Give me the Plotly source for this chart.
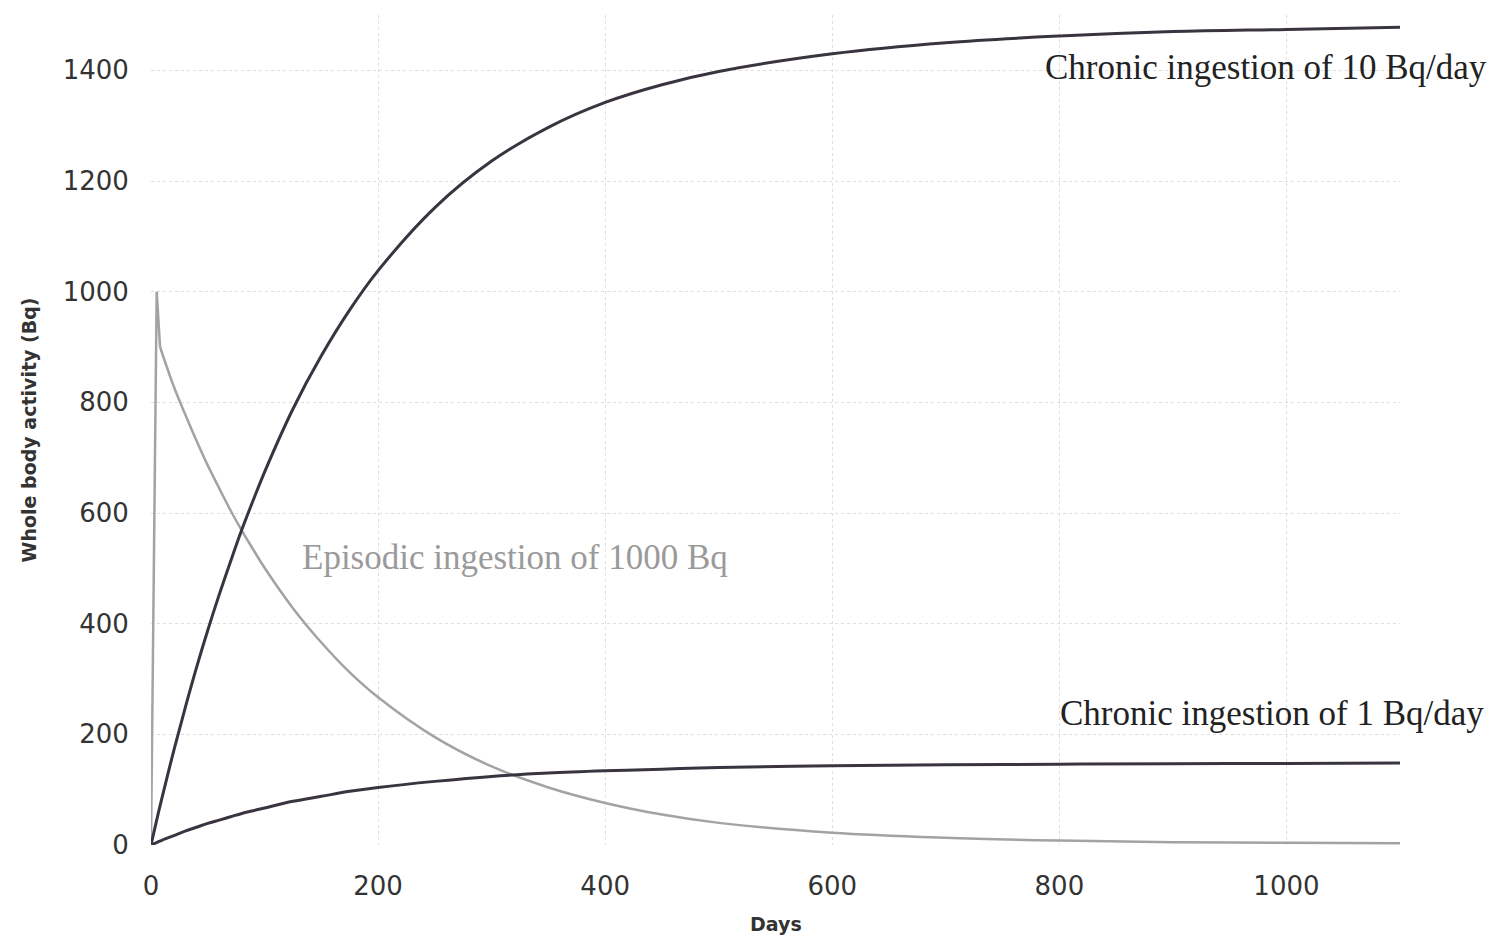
import plotly.graph_objects as go

days = [0, 5, 10, 20, 30, 40, 50, 60, 70, 80, 90, 100, 125, 150, 175, 200, 250, 300,
        350, 400, 450, 500, 600, 700, 800, 900, 1000, 1100]

# Chronic ingestion of 10 Bq/day
chronic_10 = [0, 45, 88, 170, 247, 320, 388, 452, 512, 570, 623, 674, 788, 884, 967, 1038,
              1152, 1236, 1297, 1342, 1374, 1398, 1430, 1450, 1462, 1470, 1474, 1478]

# Chronic ingestion of 1 Bq/day
chronic_1 = [0, 4.5, 9, 17, 25, 32, 39, 45, 51, 57, 62, 67, 79, 88, 97, 104,
             115, 124, 130, 134, 137, 140, 143, 145, 146, 147, 147.5, 148]

# Episodic ingestion of 1000 Bq
days_epi = [0, 5, 8, 20, 30, 40, 50, 60, 70, 80, 90, 100, 125, 150, 175, 200, 250, 300,
            350, 400, 450, 500, 600, 700, 800, 900, 1000, 1100]
episodic = [0, 1000, 900, 829, 779, 731, 686, 645, 605, 568, 534, 501, 428, 366, 312, 267,
            195, 142, 104, 76, 55, 40, 22, 13, 8, 5, 4, 3]

x_ticks = [0, 200, 400, 600, 800, 1000]
y_ticks = [0, 200, 400, 600, 800, 1000, 1200, 1400]

labels = [
    ("Chronic ingestion of 10 Bq/day", 786, 1405, "#222222"),
    ("Chronic ingestion of 1 Bq/day", 799, 237, "#222222"),
    ("Episodic ingestion of 1000 Bq", 131, 519, "#9a9a9a"),
]

fig = go.Figure()
# intake spike (straight segments) and decay (smooth) of the episodic series
fig.add_trace(go.Scatter(x=days_epi[:3], y=episodic[:3], mode="lines",
                         line=dict(color="#a3a3a3", width=2.5), showlegend=False))
fig.add_trace(go.Scatter(x=days_epi[2:], y=episodic[2:], mode="lines",
                         line=dict(color="#a3a3a3", width=2.5, shape="spline", smoothing=1),
                         showlegend=False))
fig.add_trace(go.Scatter(x=days, y=chronic_1, mode="lines",
                         line=dict(color="#3a3440", width=3, shape="spline", smoothing=1),
                         showlegend=False))
fig.add_trace(go.Scatter(x=days, y=chronic_10, mode="lines",
                         line=dict(color="#3a3440", width=3, shape="spline", smoothing=1),
                         showlegend=False))

for text, x, y, col in labels:
    fig.add_annotation(x=x, y=y, xref="x", yref="y", text=text, showarrow=False,
                       xanchor="left", yanchor="middle",
                       font=dict(family="Liberation Serif", size=35, color=col))

# x-axis title
fig.add_annotation(x=0.5, y=0, xref="paper", yref="paper", yshift=-79,
                   text="<b>Days</b>", showarrow=False, xanchor="center", yanchor="middle",
                   font=dict(family="DejaVu Sans", size=19, color="#333333"))

# page body adds an 8px margin, so the figure is sized/offset to compensate
fig.update_layout(
    width=1479, height=929,
    margin=dict(l=143, r=87, t=7, b=92),
    paper_bgcolor="white", plot_bgcolor="white",
    font=dict(family="DejaVu Sans", color="#333333"),
)
fig.update_xaxes(
    range=[0, 1100], tickvals=x_ticks, ticktext=[str(v) for v in x_ticks],
    showgrid=True, gridcolor="#dedede", griddash="dot", gridwidth=1,
    zeroline=False, showline=False, automargin=False,
    ticks="outside", ticklen=18, tickcolor="rgba(0,0,0,0)",
    tickfont=dict(family="DejaVu Sans", size=26, color="#333333"),
)
fig.update_yaxes(
    range=[0, 1500], tickvals=y_ticks, ticktext=[str(v) for v in y_ticks],
    showgrid=True, gridcolor="#dedede", griddash="dot", gridwidth=1,
    zeroline=False, showline=False, automargin=False,
    ticks="outside", ticklen=16, tickcolor="rgba(0,0,0,0)",
    tickfont=dict(family="DejaVu Sans", size=26, color="#333333"),
    title=dict(text="<b>Whole body activity (Bq)</b>",
               font=dict(family="DejaVu Sans", size=19, color="#333333"), standoff=20),
)

fig.write_html("out.html")
